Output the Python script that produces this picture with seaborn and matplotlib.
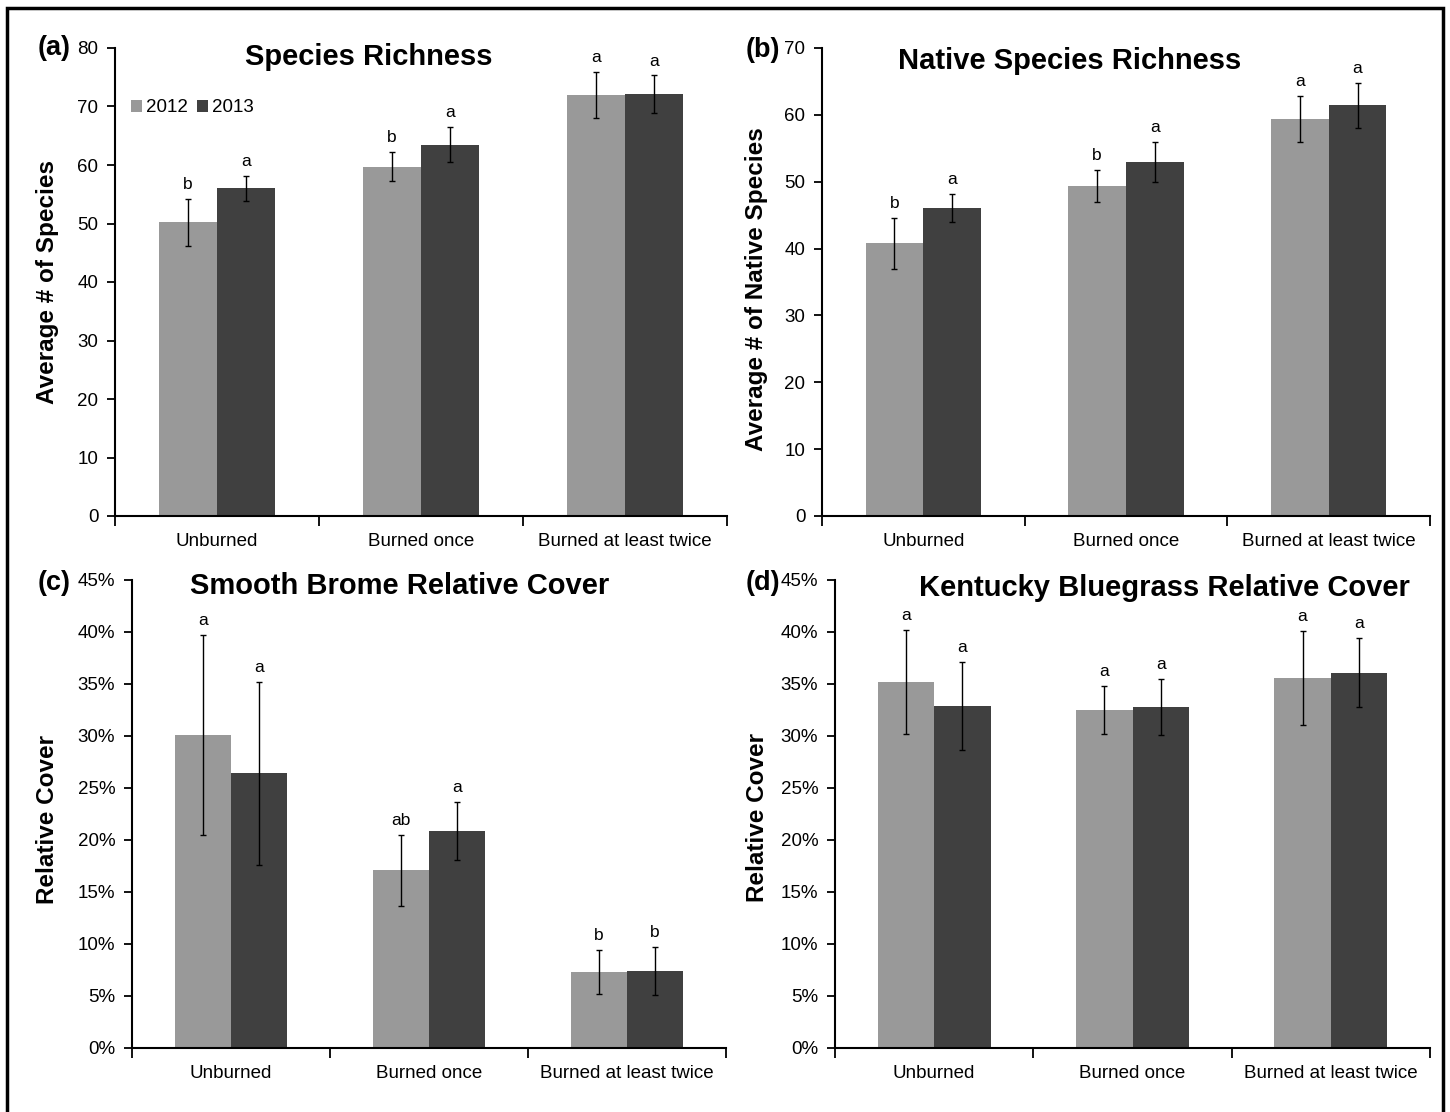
import pandas as pd
import numpy as np
import matplotlib
matplotlib.use("Agg")
import matplotlib.pyplot as plt
import seaborn as sns
from matplotlib.ticker import PercentFormatter, MultipleLocator, FixedLocator
from matplotlib.patches import Rectangle

# categories and years
categories = ["Unburned", "Burned once", "Burned at least twice"]
years = ["2012", "2013"]

# (a) Species richness
rich_2012 = [50.2, 59.7, 72.0]
rich_2013 = [56.0, 63.5, 72.1]
rich_err_2012 = [4.0, 2.5, 3.9]
rich_err_2013 = [2.1, 3.0, 3.2]
rich_let_2012 = ["b", "b", "a"]
rich_let_2013 = ["a", "a", "a"]

# (b) Native species richness
native_2012 = [40.8, 49.4, 59.4]
native_2013 = [46.0, 52.9, 61.4]
native_err_2012 = [3.8, 2.4, 3.4]
native_err_2013 = [2.1, 3.0, 3.3]
native_let_2012 = ["b", "b", "a"]
native_let_2013 = ["a", "a", "a"]

# (c) Smooth brome relative cover (%)
brome_2012 = [30.1, 17.1, 7.3]
brome_2013 = [26.4, 20.9, 7.4]
brome_err_2012 = [9.6, 3.4, 2.1]
brome_err_2013 = [8.8, 2.8, 2.35]
brome_let_2012 = ["a", "ab", "b"]
brome_let_2013 = ["a", "a", "b"]

# (d) Kentucky bluegrass relative cover (%)
blue_2012 = [35.2, 32.5, 35.6]
blue_2013 = [32.9, 32.8, 36.1]
blue_err_2012 = [5.0, 2.3, 4.5]
blue_err_2013 = [4.2, 2.7, 3.3]
blue_let_2012 = ["a", "a", "a"]
blue_let_2013 = ["a", "a", "a"]

colors = {"2012": "#999999", "2013": "#404040"}

sns.set_style("white")
plt.rcParams['font.family'] = ['Liberation Sans', 'DejaVu Sans']
plt.rcParams['text.color'] = 'black'
plt.rcParams['axes.labelcolor'] = 'black'
plt.rcParams['xtick.color'] = 'black'
plt.rcParams['ytick.color'] = 'black'

W, H = 1450, 1112
fig = plt.figure(figsize=(14.5, 11.12), dpi=100)


def px_axes(left, right, top, bottom):
    return fig.add_axes([left / W, 1 - bottom / H, (right - left) / W, (bottom - top) / H])


def make_df(v12, v13):
    return pd.DataFrame({
        "Treatment": categories * 2,
        "Year": ["2012"] * 3 + ["2013"] * 3,
        "Value": list(v12) + list(v13),
    })


def draw_panel(ax, v12, v13, e12, e13, l12, l13, ymax, step, pct, legend=False):
    df = make_df(v12, v13)
    sns.barplot(data=df, x="Treatment", y="Value", hue="Year", order=categories,
                hue_order=years, palette=colors, width=0.57, errorbar=None,
                saturation=1, ax=ax, legend=legend, linewidth=0)
    for cont, errs, lets in zip(ax.containers, [e12, e13], [l12, l13]):
        for bar, err, let in zip(cont, errs, lets):
            xc = bar.get_x() + bar.get_width() / 2
            h = bar.get_height()
            ax.errorbar(xc, h, yerr=err, fmt="none", ecolor="black", elinewidth=1.0,
                        capsize=2.5, capthick=1.0)
            ax.annotate(let, (xc, h + err), xytext=(0, 5), textcoords="offset points",
                        ha="center", va="bottom", fontsize=12.5)
    ax.set_ylim(0, ymax)
    ax.set_xlim(-0.5, 2.5)
    ax.yaxis.set_major_locator(MultipleLocator(step))
    if pct:
        ax.yaxis.set_major_formatter(PercentFormatter(100, decimals=0))
    ax.set_xlabel("")
    ax.set_ylabel("")
    sns.despine(ax=ax)
    for s in ["left", "bottom"]:
        ax.spines[s].set_color("black")
        ax.spines[s].set_linewidth(1.5)
    ax.xaxis.set_minor_locator(FixedLocator([-0.5, 0.5, 1.5, 2.5]))
    ax.tick_params(axis="x", which="major", length=0, labelsize=13.5, pad=12)
    ax.tick_params(axis="x", which="minor", length=7, width=1.3, direction="out",
                   bottom=True)
    ax.tick_params(axis="y", which="major", length=6, width=1.3, direction="out",
                   left=True, labelsize=13.5, pad=6)


# panel (a)
ax_a = px_axes(115, 727, 48, 516)
draw_panel(ax_a, rich_2012, rich_2013, rich_err_2012, rich_err_2013,
           rich_let_2012, rich_let_2013, 80, 10, False, legend=True)
ax_a.legend(loc="upper left", bbox_to_anchor=(0.026, 0.89), ncol=2, frameon=False,
            fontsize=13.5, handlelength=0.6, handleheight=0.6, handletextpad=0.2,
            columnspacing=0.5, borderpad=0, borderaxespad=0)
ax_a.text(0.415, 0.98, "Species Richness", transform=ax_a.transAxes, ha="center",
          va="center", fontsize=21, fontweight="bold")

# panel (b)
ax_b = px_axes(822, 1430, 48, 516)
draw_panel(ax_b, native_2012, native_2013, native_err_2012, native_err_2013,
           native_let_2012, native_let_2013, 70, 10, False)
ax_b.text(0.408, 0.972, "Native Species Richness", transform=ax_b.transAxes, ha="center",
          va="center", fontsize=21, fontweight="bold")

# panel (c)
ax_c = px_axes(132, 726, 580, 1048)
draw_panel(ax_c, brome_2012, brome_2013, brome_err_2012, brome_err_2013,
           brome_let_2012, brome_let_2013, 45, 5, True)
ax_c.text(0.451, 0.987, "Smooth Brome Relative Cover", transform=ax_c.transAxes,
          ha="center", va="center", fontsize=21, fontweight="bold")

# panel (d)
ax_d = px_axes(835, 1430, 580, 1048)
draw_panel(ax_d, blue_2012, blue_2013, blue_err_2012, blue_err_2013,
           blue_let_2012, blue_let_2013, 45, 5, True)
ax_d.text(0.553, 0.983, "Kentucky Bluegrass Relative Cover", transform=ax_d.transAxes,
          ha="center", va="center", fontsize=21, fontweight="bold")

# y labels and panel letters
ylabels = [("Average # of Species", 48, 282), ("Average # of Native Species", 757, 289),
           ("Relative Cover", 48, 819), ("Relative Cover", 757, 818)]
for txt, x, y in ylabels:
    fig.text(x / W, 1 - y / H, txt, rotation=90, ha="center", va="center",
             fontsize=17.5, fontweight="bold")

letters = [("(a)", 38, 48), ("(b)", 746, 50), ("(c)", 38, 583), ("(d)", 746, 583)]
for txt, x, y in letters:
    fig.text(x / W, 1 - y / H, txt, ha="left", va="center", fontsize=19.5, fontweight="bold")

# outer frame
fig.patches.append(Rectangle((7 / W, -0.01), (1443 - 7) / W, 1 - 8 / H + 0.01,
                             transform=fig.transFigure, fill=False, edgecolor="black",
                             linewidth=2.5, figure=fig))

fig.savefig("out.png", dpi=100)
